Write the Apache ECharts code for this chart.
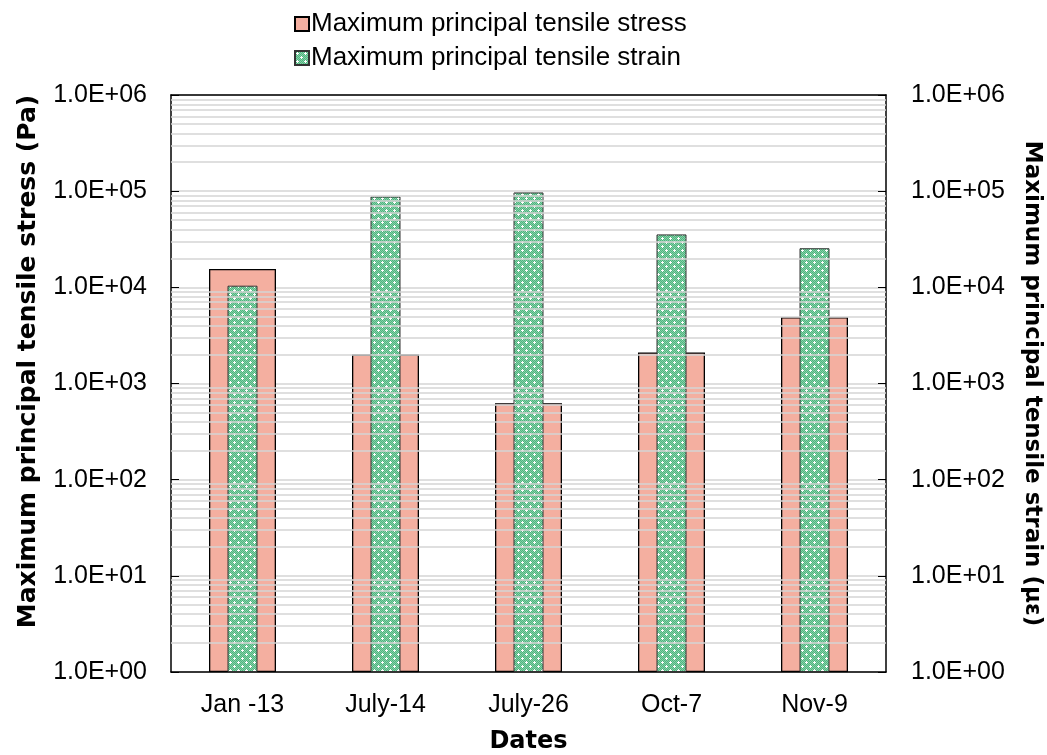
<!DOCTYPE html>
<html>
<head>
<meta charset="utf-8">
<script src="https://cdn.jsdelivr.net/npm/echarts@6/dist/echarts.min.js"></script>
<style>
html, body { margin: 0; padding: 0; background: #fff; }
#chart { width: 1047px; height: 755px; }
</style>
</head>
<body>
<div id="chart"></div>
<script>
var dates = ['Jan -13', 'July-14', 'July-26', 'Oct-7', 'Nov-9'];
var stress = [15500, 2000, 625, 2100, 4900];
var strain = [10400, 88000, 97000, 35500, 25500];

// dotted green fill like the excel pattern
function makePattern() {
    var c = document.createElement('canvas');
    c.width = 8; c.height = 8;
    var ctx = c.getContext('2d');
    ctx.fillStyle = '#86d3a8';
    ctx.fillRect(0, 0, 8, 8);
    ctx.fillStyle = '#4fb37f';
    for (var y = 0; y < 8; y++) {
        for (var x = 0; x < 8; x++) {
            if ((x + y) % 2 === 0) ctx.fillRect(x, y, 1, 1);
        }
    }
    ctx.fillStyle = '#ffffff';
    ctx.fillRect(2, 1, 1, 3);
    ctx.fillRect(1, 2, 3, 1);
    ctx.fillRect(6, 5, 1, 3);
    ctx.fillRect(5, 6, 3, 1);
    return c;
}
var greenFill = { image: makePattern(), repeat: 'repeat' };

function sciLabel(v) {
    var e = Math.round(Math.log10(v));
    var m = v / Math.pow(10, e);
    return m.toFixed(1) + 'E+' + (e < 10 ? '0' + e : e);
}

var minorLines = [];
for (var k = 0; k < 6; k++) {
    for (var m = 2; m <= 9; m++) {
        minorLines.push({ yAxis: m * Math.pow(10, k) });
    }
}

var font = 'Liberation Sans, Arial, sans-serif';
var titleFont = 'DejaVu Sans, Liberation Sans, sans-serif';

var chart = echarts.init(document.getElementById('chart'));

var option = {
    textStyle: { fontFamily: font },
    legend: {
        orient: 'vertical',
        left: 289,
        top: 5,
        icon: 'rect',
        itemWidth: 14,
        itemHeight: 14,
        itemGap: 6,
        data: ['Maximum principal tensile stress', 'Maximum principal tensile strain'],
        textStyle: { fontSize: 26, lineHeight: 28, color: '#000', fontFamily: font, padding: [0, 0, 0, -3] }
    },
    grid: { left: 171, right: 161, top: 95, bottom: 83, outerBoundsMode: 'none' },
    xAxis: [
        {
            type: 'category',
            data: dates,
            name: 'Dates',
            nameLocation: 'middle',
            nameGap: 58,
            nameTextStyle: { fontSize: 24, fontWeight: 'bold', color: '#000', fontFamily: titleFont },
            axisLine: { lineStyle: { color: '#000', width: 1.5 } },
            axisTick: { show: false },
            axisLabel: { fontSize: 25, color: '#000', margin: 21 }
        },
        {
            type: 'category',
            data: dates,
            position: 'top',
            axisLine: { lineStyle: { color: '#000', width: 1.5 } },
            axisTick: { show: false },
            axisLabel: { show: false }
        }
    ],
    yAxis: [
        {
            type: 'log',
            logBase: 10,
            min: 1,
            max: 1000000,
            name: 'Maximum principal tensile stress (Pa)',
            nameLocation: 'middle',
            nameRotate: 90,
            nameGap: 130,
            nameTextStyle: { fontSize: 25, fontWeight: 'bold', color: '#000', fontFamily: titleFont, padding: [0, 0, 0, 44] },
            axisLine: { show: true, lineStyle: { color: '#000', width: 1.5 } },
            axisTick: { show: true, inside: true, length: 8, lineStyle: { color: '#000' } },
            axisLabel: { fontSize: 25, color: '#000', margin: 24, formatter: sciLabel },
            splitLine: { show: true, lineStyle: { color: '#d4d4d4', width: 1.5 } }
        },
        {
            type: 'log',
            logBase: 10,
            min: 1,
            max: 1000000,
            position: 'right',
            name: 'Maximum principal tensile strain (\u03bc\u03b5)',
            nameLocation: 'middle',
            nameRotate: -90,
            nameGap: 134,
            nameTextStyle: { fontSize: 23, fontWeight: 'bold', color: '#000', fontFamily: titleFont },
            axisLine: { show: true, lineStyle: { color: '#000', width: 1.5 } },
            axisTick: { show: true, inside: true, length: 8, lineStyle: { color: '#000' } },
            axisLabel: { fontSize: 25, color: '#000', margin: 25, formatter: sciLabel },
            splitLine: { show: false }
        }
    ],
    series: [
        {
            name: 'grid',
            type: 'line',
            data: [],
            silent: true,
            z: 1,
            markLine: {
                silent: true,
                symbol: 'none',
                label: { show: false },
                lineStyle: { color: '#d4d4d4', width: 1.5, type: 'solid' },
                data: minorLines
            }
        },
        {
            name: 'Maximum principal tensile stress',
            type: 'bar',
            xAxisIndex: 0,
            yAxisIndex: 0,
            barWidth: 67,
            z: 3,
            itemStyle: { color: '#f4afa0', borderColor: '#000', borderWidth: 1.3 },
            data: stress
        },
        {
            name: 'Maximum principal tensile strain',
            type: 'bar',
            xAxisIndex: 1,
            yAxisIndex: 1,
            barWidth: 30,
            z: 4,
            itemStyle: { color: greenFill, borderColor: '#333', borderWidth: 1 },
            data: strain
        }
    ]
};

chart.setOption(option);
</script>
</body>
</html>
